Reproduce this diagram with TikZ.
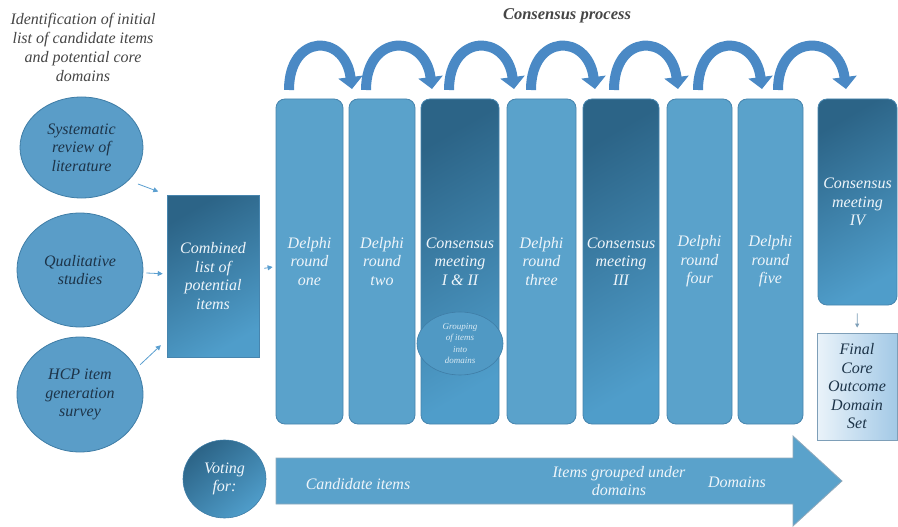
\documentclass[tikz,border=0pt]{standalone}
\usepackage{fontspec}
\setmainfont{Liberation Serif}
\usetikzlibrary{arrows.meta,shapes.geometric,calc}
\definecolor{circfill}{HTML}{5A9DC8}
\definecolor{circdraw}{HTML}{3F7DA6}
\definecolor{boxfill}{HTML}{5AA2CB}
\definecolor{boxdraw}{HTML}{4785AE}
\definecolor{darkb}{HTML}{2C6487}
\definecolor{lightb}{HTML}{4F9DCA}
\definecolor{arcc}{HTML}{4A89C5}
\definecolor{navy}{HTML}{1D3449}
\definecolor{whitetxt}{HTML}{EEF5FA}
\definecolor{greytxt}{HTML}{454545}
\definecolor{conncol}{HTML}{5B9FD0}
\definecolor{finl}{HTML}{EAF3FA}
\definecolor{finr}{HTML}{A3C9E6}
\definecolor{findraw}{HTML}{7E9FB8}
\definecolor{arrowdraw}{HTML}{8FA9BB}
\definecolor{grpfill}{HTML}{5099C4}
\definecolor{grptxt}{HTML}{D9EAF4}
\begin{document}
\begin{tikzpicture}[x=1pt,y=-1pt,
  txt/.style={font=\fontsize{16}{18.5}\selectfont\itshape, align=center, inner sep=0pt},
  srccirc/.style={ellipse, draw=circdraw, line width=0.8pt, fill=circfill, txt, text=navy},
  tallbase/.style={rectangle, rounded corners=9pt, draw=boxdraw, line width=0.8pt, txt, text=whitetxt},
  delphi/.style={tallbase, fill=boxfill, minimum width=67pt, minimum height=325pt},
  cmeet/.style={tallbase, top color=darkb, bottom color=lightb, shading angle=30},
  conn/.style={draw=conncol, line width=0.8pt, -{Triangle[width=5pt,length=5pt]}},
  arcst/.style={draw=arcc, line width=10pt, -{Triangle[width=24pt,length=12pt]}},
]
\useasboundingbox (0,0) rectangle (898,527);

% headings
\node[txt, text=greytxt, font=\fontsize{16}{19}\selectfont\itshape] (title) at (83,47)
  {Identification of initial\\list of candidate items\\and potential core\\domains};
\node[txt, text=greytxt, font=\fontsize{16.5}{19}\selectfont\bfseries\itshape] (cproc) at (567,16) {Consensus process};

% source circles
\node[srccirc, minimum width=123pt, minimum height=101pt] (c1) at (81.5,147.5) {Systematic\\review of\\literature};
\node[srccirc, minimum width=126pt, minimum height=114pt] (c2) at (80,270) {Qualitative\\studies};
\node[srccirc, minimum width=126pt, minimum height=115pt] (c3) at (80,394.5) {HCP item\\generation\\survey};

% combined box
\node[rectangle, draw=boxdraw, line width=0.6pt, top color=darkb, bottom color=lightb, shading angle=30,
      txt, text=whitetxt, minimum width=92pt, minimum height=162pt] (comb) at (213,276)
  {Combined\\list of\\potential\\items};

% tall boxes
\node[delphi] (d1) at (309.5,261.5) {Delphi\\round\\one};
\node[delphi, minimum width=66pt] (d2) at (382,261.5) {Delphi\\round\\two};
\node[cmeet, minimum width=78pt, minimum height=325pt] (m12) at (460,261.5) {Consensus\\meeting\\I \& II};
\node[delphi, minimum width=69pt] (d3) at (541.5,261.5) {Delphi\\round\\three};
\node[cmeet, minimum width=76pt, minimum height=325pt] (m3) at (621,261.5) {Consensus\\meeting\\III};
\node[delphi, minimum width=65pt] (d4) at (699.5,261.5) {Delphi\\round\\four};
\node[delphi, minimum width=65pt] (d5) at (770.5,261.5) {Delphi\\round\\five};
\node[cmeet, minimum width=79pt, minimum height=206pt] (m4) at (857.5,202) {Consensus\\meeting\\IV};

% grouping ellipse
\node[ellipse, draw=circdraw, line width=0.6pt, fill=grpfill, minimum width=86pt, minimum height=63pt,
      inner sep=0pt, align=center, text=grptxt, font=\fontsize{9}{11.5}\selectfont\itshape] (grp) at (460,343.5)
  {Grouping\\of items\\into\\domains};

% final box
\node[rectangle, draw=findraw, line width=0.8pt, left color=finl, right color=finr,
      txt, text=navy, minimum width=80pt, minimum height=107pt] (fin) at (857,386.5)
  {Final\\Core\\Outcome\\Domain\\Set};

% small connectors
\draw[conn, shorten <=10pt, shorten >=9pt] (c1.-35) -- (comb.north west);
\draw[conn, shorten <=3pt, shorten >=4pt] (c2) -- (comb);
\draw[conn, shorten <=5pt, shorten >=8pt] (c3.25) -- (comb.234);
\draw[conn, shorten <=5pt, shorten >=3pt] (comb) -- (d1);
\draw[draw=findraw, line width=0.8pt, -{Triangle[width=4pt,length=4pt]}, shorten <=8pt, shorten >=5pt] (m4) -- (fin);

% curved arrows on top
\foreach \f/\t in {289/352, 366/432, 449/514, 531/595, 614/678, 698/762, 778/846}{
  \draw[arcst] (\f,90) .. controls (\f,33) and (\t-7,33) .. (\t,89);
}

% bottom voting arrow
\draw[fill=boxfill, draw=arrowdraw, line width=0.8pt]
  (276,458) -- (793,458) -- (793,436) -- (842,481) -- (793,526) -- (793,504) -- (276,504) -- cycle;
\node[ellipse, draw=circdraw, line width=0.6pt, top color=darkb, bottom color=lightb, shading angle=40,
      txt, text=whitetxt, minimum width=83pt, minimum height=78pt] (vote) at (224.5,479) {Voting\\for:};
\node[txt, text=whitetxt] (cand) at (358,484) {Candidate items};
\node[txt, text=whitetxt] (grpd) at (619,481) {Items grouped under\\domains};
\node[txt, text=whitetxt] (dom) at (737,482) {Domains};
\end{tikzpicture}
\end{document}
